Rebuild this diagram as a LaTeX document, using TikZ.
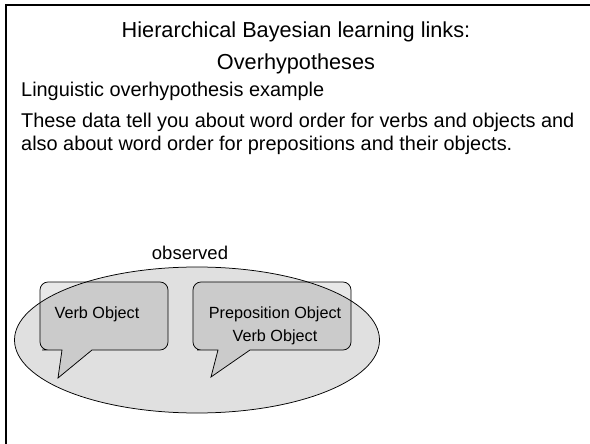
\documentclass[tikz,border=0pt]{standalone}
\usepackage{fontspec}
\setmainfont{Liberation Sans}
\definecolor{ovalgray}{RGB}{224,224,224}
\begin{document}
\begin{tikzpicture}[x=1pt,y=1pt,yscale=-1,xscale=1,
		bubble/.style={draw=black,line width=0.75,fill=black,fill opacity=0.09,draw opacity=1},
		bodytext/.style={anchor=base west,inner sep=0pt,font=\fontsize{19.9}{22.5}\selectfont},
		bubbletext/.style={anchor=base,inner sep=0pt,font=\fontsize{16.2}{19}\selectfont}]
			\useasboundingbox (0,0) rectangle (590,444);
			
			%Straight Lines [id:slideframe] 
			\draw [line width=2]  (6,444) -- (6,5.5) -- (590,5.5) ;
			
			%Shape: Ellipse [id:observedset] 
			\draw  [fill=ovalgray ,line width=0.75] (197,340) ellipse [x radius=182.5, y radius=73] ;
			
			%Shape: Callout [id:bubbleone] 
			\draw  [bubble] (100,350) [rounded corners=8] -- (168,350) -- (168,282) -- (40,282) -- (40,350) -- (50,350) [sharp corners] -- (62,350) -- (58,378) -- (92,350) -- cycle ;
			%Shape: Callout [id:bubbletwo] 
			\draw  [bubble] (260,350) [rounded corners=8] -- (351,350) -- (351,282) -- (193,282) -- (193,350) -- (205,350) [sharp corners] -- (218,350) -- (211,377) -- (250,350) -- cycle ;
			
			% Text Node
			\draw (296,38) node (title) [anchor=base][inner sep=0pt]  [font=\fontsize{21.7}{33}\selectfont]  {Hierarchical Bayesian learning links:};
			% Text Node
			\draw (296,70) node (subtitle) [anchor=base][inner sep=0pt]  [font=\fontsize{21.7}{33}\selectfont]  {Overhypotheses};
			% Text Node
			\draw (21,97) node (example) [bodytext]  {Linguistic overhypothesis example};
			% Text Node
			\draw (21,128) node (dataone) [bodytext]  {These data tell you about word order for verbs and objects and};
			% Text Node
			\draw (21,150) node (datatwo) [bodytext]  {also about word order for prepositions and their objects.};
			% Text Node
			\draw (190,259) node (observed) [anchor=base][inner sep=0pt]  [font=\fontsize{18.5}{22}\selectfont]  {observed};
			% Text Node
			\draw (97,318) node (verbobj) [bubbletext]  {Verb Object};
			% Text Node
			\draw (275,318) node (prepobj) [bubbletext]  {Preposition Object};
			% Text Node
			\draw (275,341) node (verbobjtwo) [bubbletext]  {Verb Object};
		\end{tikzpicture}
\end{document}
